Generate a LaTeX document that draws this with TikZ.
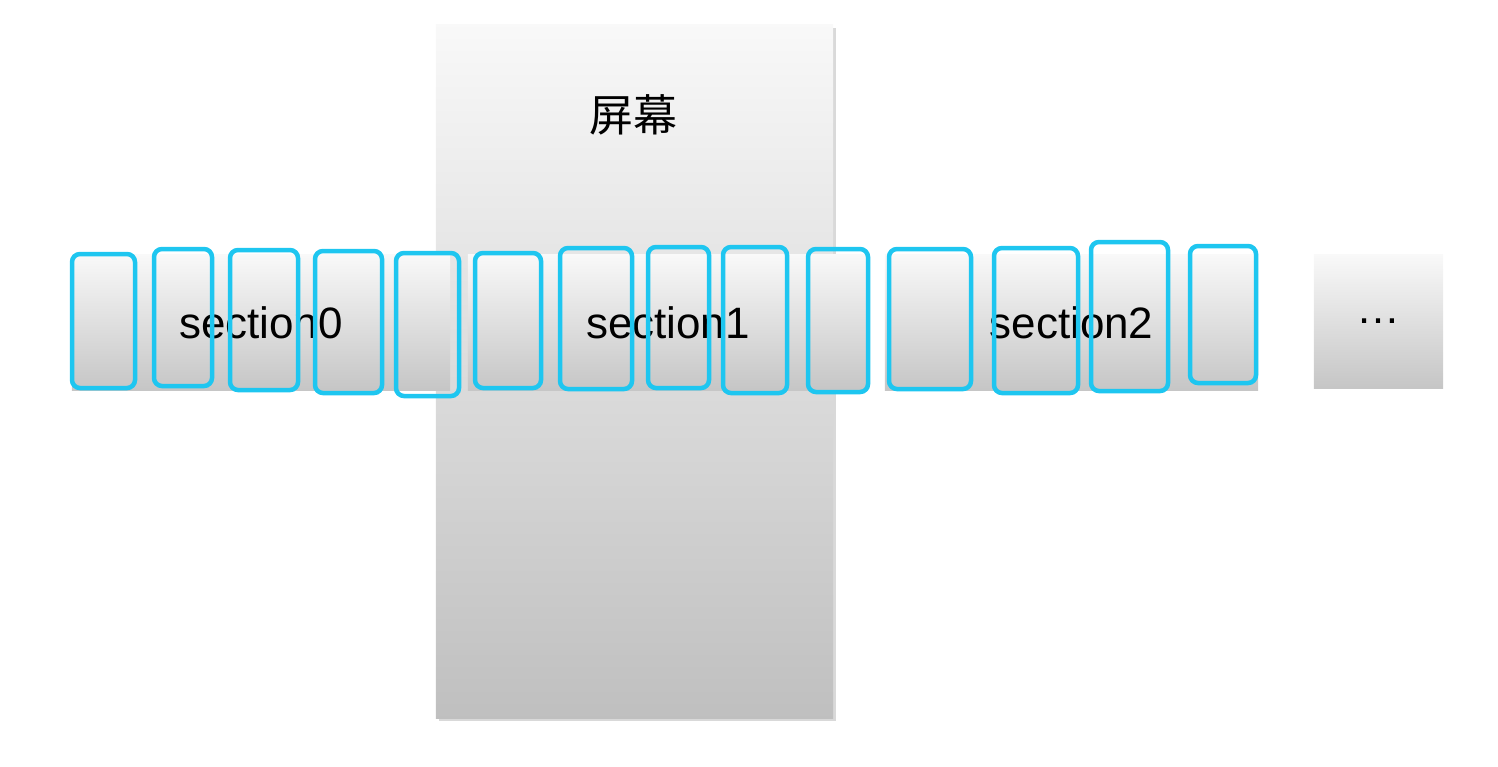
\documentclass[tikz,border=0pt]{standalone}
\usepackage{fontspec}
\setmainfont{Liberation Sans}
\newfontfamily\cjk{Noto Sans CJK SC}
\usetikzlibrary{positioning}
\definecolor{cellblue}{RGB}{30,198,240}
\begin{document}
\begin{tikzpicture}[x=0.01cm,y=-0.01cm,
	panel/.style={inner sep=0pt,top color=gray!5,bottom color=gray!45,font=\fontsize{12.5}{15}\selectfont},
	cell/.style={draw=cellblue,line width=0.45mm,rounded corners=0.8mm,inner sep=0pt}]
	\useasboundingbox (0,0) rectangle (1498,766);
			% screen
			\fill[gray!30] (439,28) rectangle (836,721);
			\node[panel,minimum width=3.97cm,minimum height=6.93cm,top color=gray!5,bottom color=gray!50] (screen) at (634.5,371.5) {};
			\node[font=\cjk\fontsize{12.5}{15}\selectfont] (title) at (633,115) {屏幕};
			% sections
			\node[panel,minimum width=3.78cm,minimum height=1.35cm] (sec0) at (261,322.5) {section0};
			\node[panel,minimum width=4.00cm,minimum height=1.35cm] (sec1) at (668,322.5) {section1};
			\node[panel,minimum width=3.73cm,minimum height=1.35cm] (sec2) at (1071.5,322.5) {section2};
			\node[panel,minimum width=1.29cm,minimum height=1.33cm] (more) at (1378.5,321.5) {\dots};
			% cells
			\foreach \l/\t/\r/\b [count=\i] in {72/254/135/388, 154/249/212/386, 230/250/298/390,
				315/251/382/393, 396/253/459/396, 475/253/541/388, 560/248/632/389,
				648/247/709/388, 723/247/787/393, 808/249/868/392, 889/249/971/389,
				994/248/1078/393, 1091/242/1168/391, 1190/246/1256/383}
				\draw[cell] (\l,\t) rectangle (\r,\b) coordinate (cell\i);
		\end{tikzpicture}
\end{document}
